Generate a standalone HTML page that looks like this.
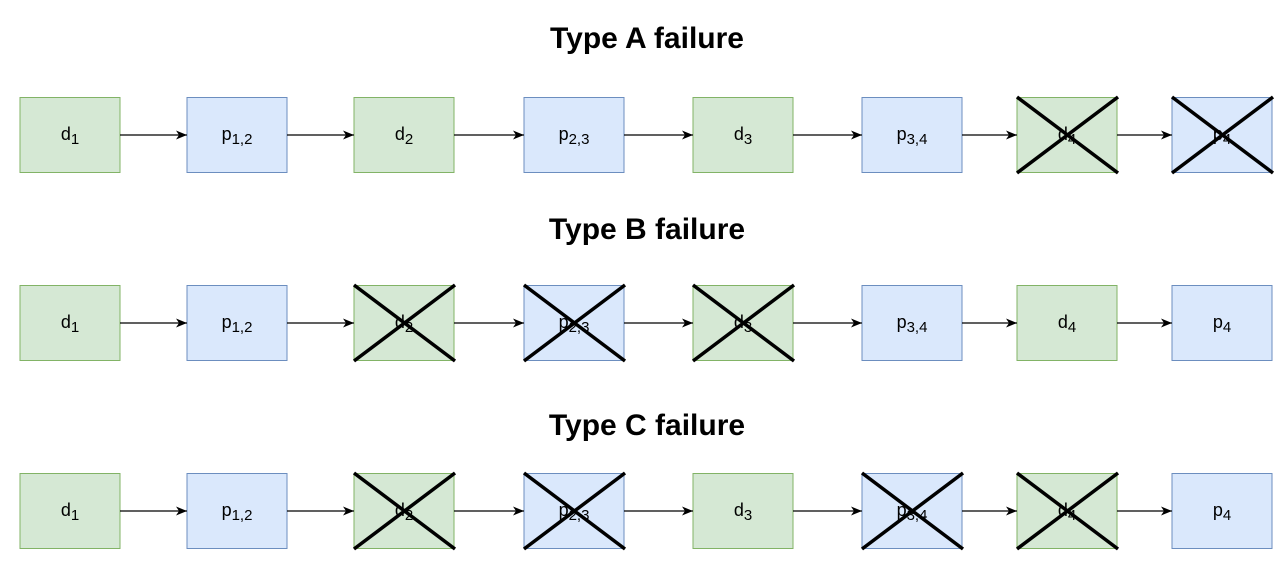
<!DOCTYPE html>
<html><head><meta charset="utf-8"><style>body{margin:0;background:#fff}</style></head><body>
<svg width="1288" height="564" xmlns="http://www.w3.org/2000/svg" font-family="Liberation Sans, Arial, sans-serif">
<defs>
<marker id="a" markerWidth="12" markerHeight="10" refX="11" refY="5" orient="auto" markerUnits="userSpaceOnUse"><path d="M0,0.5 L11,5 L0,9.5 L3,5 Z" fill="#000"/></marker>
<g id="rowbase">
<rect x="20" y="0.5" width="100" height="75" fill="#d5e8d4" stroke="#82b366"/>
<rect x="187" y="0.5" width="100" height="75" fill="#dae8fc" stroke="#6c8ebf"/>
<rect x="354" y="0.5" width="100" height="75" fill="#d5e8d4" stroke="#82b366"/>
<rect x="524" y="0.5" width="100" height="75" fill="#dae8fc" stroke="#6c8ebf"/>
<rect x="693" y="0.5" width="100" height="75" fill="#d5e8d4" stroke="#82b366"/>
<rect x="862" y="0.5" width="100" height="75" fill="#dae8fc" stroke="#6c8ebf"/>
<rect x="1017" y="0.5" width="100" height="75" fill="#d5e8d4" stroke="#82b366"/>
<rect x="1172" y="0.5" width="100" height="75" fill="#dae8fc" stroke="#6c8ebf"/>
<g stroke="#000" stroke-width="1.3" marker-end="url(#a)">
<line x1="120" y1="38" x2="187" y2="38"/>
<line x1="287" y1="38" x2="354" y2="38"/>
<line x1="454" y1="38" x2="524" y2="38"/>
<line x1="624" y1="38" x2="693" y2="38"/>
<line x1="793" y1="38" x2="862" y2="38"/>
<line x1="962" y1="38" x2="1017" y2="38"/>
<line x1="1117" y1="38" x2="1172" y2="38"/>
</g>
<g font-size="18" text-anchor="middle">
<text x="70" y="43">d<tspan font-size="15" dy="4">1</tspan></text>
<text x="237" y="43">p<tspan font-size="15" dy="4">1,2</tspan></text>
<text x="404" y="43">d<tspan font-size="15" dy="4">2</tspan></text>
<text x="574" y="43">p<tspan font-size="15" dy="4">2,3</tspan></text>
<text x="743" y="43">d<tspan font-size="15" dy="4">3</tspan></text>
<text x="912" y="43">p<tspan font-size="15" dy="4">3,4</tspan></text>
<text x="1067" y="43">d<tspan font-size="15" dy="4">4</tspan></text>
<text x="1222" y="43">p<tspan font-size="15" dy="4">4</tspan></text>
</g>
</g>
<path id="x" d="M0,0 L101,76 M101,0 L0,76" stroke="#000" stroke-width="3.5"/>
</defs>
<g font-weight="bold" font-size="30" text-anchor="middle">
<text x="647" y="48">Type A failure</text>
<text x="647" y="239">Type B failure</text>
<text x="647" y="435">Type C failure</text>
</g>
<use href="#rowbase" x="0" y="97"/>
<use href="#rowbase" x="0" y="285"/>
<use href="#rowbase" x="0" y="473"/>
<use href="#x" x="1017" y="97"/>
<use href="#x" x="1172" y="97"/>
<use href="#x" x="354" y="285"/>
<use href="#x" x="524" y="285"/>
<use href="#x" x="693" y="285"/>
<use href="#x" x="354" y="473"/>
<use href="#x" x="524" y="473"/>
<use href="#x" x="862" y="473"/>
<use href="#x" x="1017" y="473"/>
</svg>
</body></html>
